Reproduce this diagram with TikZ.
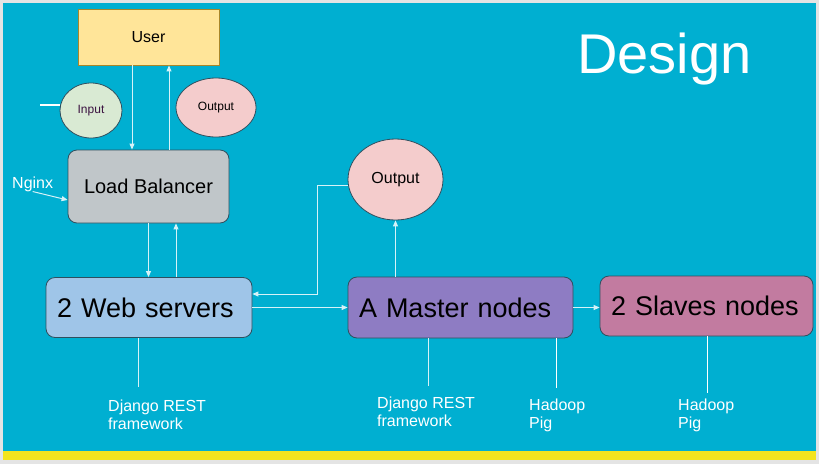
\documentclass[tikz,border=0pt]{standalone}
\usepackage{fontspec}
\setmainfont{Liberation Sans}
\usetikzlibrary{arrows.meta,shapes.geometric}
\definecolor{slide}{HTML}{00AFD1}
\definecolor{frame}{HTML}{E4E4E4}
\definecolor{bar}{HTML}{F3E41E}
\definecolor{boxline}{HTML}{2F4F5F}
\definecolor{userfill}{HTML}{FFE599}
\definecolor{userline}{HTML}{A8862A}
\definecolor{infill}{HTML}{D9EAD3}
\definecolor{outfill}{HTML}{F4CCCC}
\definecolor{lbfill}{HTML}{C0C6C9}
\definecolor{webfill}{HTML}{9FC5E8}
\definecolor{masterfill}{HTML}{8E7CC3}
\definecolor{slavefill}{HTML}{C27BA0}
\definecolor{lnk}{HTML}{D6F2F8}
\definecolor{inputtext}{HTML}{3B1240}
\begin{document}
\begin{tikzpicture}[x=1pt, y=-1pt,
    box/.style={draw=boxline, line width=0.8pt, rounded corners=9pt, text=black, inner sep=0pt},
    bigbox/.style={box, font=\fontsize{27}{32}\selectfont, minimum height=60pt, align=left, inner xsep=11pt},
    oval/.style={ellipse, draw=boxline, line width=0.8pt, inner sep=0pt, text=black},
    link/.style={draw=lnk, line width=1pt, -{Triangle[length=6pt,width=5pt]}},
    leg/.style={draw=lnk, line width=1pt},
    note/.style={text=white, font=\fontsize{16}{18}\selectfont, align=left, anchor=north west, inner sep=0pt}]
    \useasboundingbox (0,0) rectangle (819,464);
    \fill[frame] (0,0) rectangle (819,464);
    \fill[slide] (3,3) rectangle (816,451);
    \fill[bar] (3,451) rectangle (816,460);

    \node[text=white, font=\fontsize{56}{60}\selectfont, inner sep=0pt, anchor=base west] (title) at (577,73) {Design};

    \node[box, sharp corners, fill=userfill, draw=userline, minimum width=141pt, minimum height=56pt, font=\fontsize{16}{19}\selectfont] (user) at (148.5,37) {User};
    \node[oval, fill=infill, minimum width=62pt, minimum height=55pt, font=\fontsize{12}{14}\selectfont, text=inputtext] (input) at (91,110.5) {Input};
    \node[oval, fill=outfill, minimum width=80pt, minimum height=59pt, font=\fontsize{12}{14}\selectfont] (out1) at (216,107.5) {Output};
    \node[box, fill=lbfill, minimum width=161pt, minimum height=73pt, font=\fontsize{20}{24}\selectfont] (lb) at (148.5,186.5) {Load Balancer};
    \node[text=white, font=\fontsize{16}{19}\selectfont, inner sep=0pt, anchor=base west] (nginx) at (12,188) {Nginx};
    \node[oval, fill=outfill, minimum width=95pt, minimum height=81pt, font=\fontsize{16}{19}\selectfont] (out2) at (395.5,179.5) {Output};
    \node[bigbox, fill=webfill, text width=184pt] (web) at (149,307.5) {2 Web servers};
    \node[bigbox, fill=masterfill, text width=203pt, minimum height=61pt] (master) at (460.5,307.5) {A Master nodes};
    \node[bigbox, fill=slavefill, text width=191pt] (slaves) at (706.5,306) {2 Slaves nodes};

    \coordinate (inp) at (40,105);
    \draw[draw=white, line width=2pt] (inp) -- (inp -| input.west);
    \draw[link] ([xshift=-16.5pt]user.south) -- ([xshift=-16.5pt]lb.north);
    \draw[link] ([xshift=20.5pt]lb.north) -- ([xshift=20.5pt]user.south);
    \draw[link] (nginx.south) -- ([yshift=-13.5pt]lb.west);
    \draw[link] (lb.south) -- (lb.south |- web.north);
    \draw[link] ([xshift=27pt]web.north) -- ([xshift=27pt]web.north |- lb.south);
    \draw[link] (web.east) -- (master.west);
    \draw[link] (out2.south |- master.north) -- (out2.south);
    \draw[link] ([yshift=-6pt]out2.west) -- ++(-30,0) |- ([yshift=13.5pt]web.east);
    \draw[link] (master.east) -- (master.east -| slaves.west);

    \coordinate (webleg) at (138,387);
    \coordinate (masterleg) at (428,386);
    \coordinate (hadoopleg) at (556,388);
    \coordinate (slaveleg) at (707,393);
    \draw[leg] (webleg |- web.south) -- (webleg);
    \draw[leg] (masterleg |- master.south) -- (masterleg);
    \draw[leg, draw=white] (hadoopleg |- master.south) -- (hadoopleg);
    \draw[leg, draw=white] (slaveleg |- slaves.south) -- (slaveleg);

    \node[note] (webnote) at (108,400) {Django REST\\framework};
    \node[note] (masternote) at (377,397) {Django REST\\framework};
    \node[note] (hadoopnote) at (529,399) {Hadoop\\Pig};
    \node[note] (slavenote) at (678,399) {Hadoop\\Pig};

\end{tikzpicture}
\end{document}
